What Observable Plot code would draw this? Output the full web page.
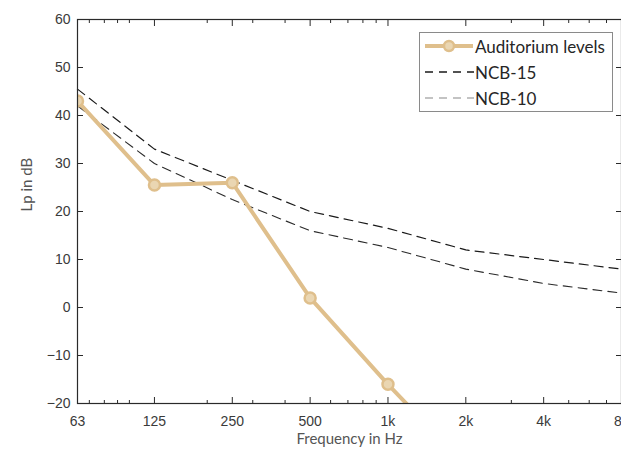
<!DOCTYPE html>
<html><head><meta charset="utf-8">
<script src="https://cdn.jsdelivr.net/npm/d3@7"></script>
<script src="https://cdn.jsdelivr.net/npm/@observablehq/plot@0.6"></script>
<style>
body{margin:0;background:#fff;}
#wrap{position:relative;width:621px;height:450px;overflow:hidden;background:#fff;}
#legend{position:absolute;left:419px;top:32px;width:194px;height:80px;border:1px solid #8a8a8a;background:#fff;font-family:Lato,sans-serif;font-size:17px;color:#262626;box-sizing:border-box;}
#legend .row{position:absolute;left:0;height:26px;width:100%;}
#legend svg{position:absolute;left:4px;top:0;}
#legend span{position:absolute;left:55px;top:2px;white-space:nowrap;}
</style></head><body>
<div id="wrap"></div>
<script>
const freqs = [63, 125, 250, 500, 1000, 2000, 4000, 8000];
const tickLabels = ["63", "125", "250", "500", "1k", "2k", "4k", "8k"];
const minorFreqs = [70, 80, 90, 100, 200, 300, 400, 600, 700, 800, 900, 3000, 5000, 6000, 7000];
const yTicks = [-20, -10, 0, 10, 20, 30, 40, 50, 60];
const auditoriumFreqs = [63, 125, 250, 500, 1000, 2000];
const auditoriumLevels = [43, 25.5, 26, 2, -16, -33];
const ncb15 = [45.5, 33, 26.5, 20, 16.5, 12, 10, 8];
const ncb10 = [42, 30, 22.5, 16, 12.5, 8, 5, 3];
const seriesNames = ["Auditorium levels", "NCB-15", "NCB-10"];

const tan = "#dfbf8c";
const aud = auditoriumFreqs.map((f, i) => ({f, v: auditoriumLevels[i]}));
const n15 = freqs.map((f, i) => ({f, v: ncb15[i]}));
const n10 = freqs.map((f, i) => ({f, v: ncb10[i]}));
const ticks = freqs.map((f, i) => ({f, label: tickLabels[i]}));
const blank = () => "";

const chart = Plot.plot({
  width: 621, height: 450,
  marginLeft: 77, marginRight: 0, marginTop: 19, marginBottom: 47,
  style: {fontFamily: "'Liberation Sans', Arial, sans-serif", fontSize: "14px", color: "#3a3a3a", background: "#fff", overflow: "hidden"},
  x: {type: "log", domain: [63, 8000]},
  y: {domain: [-20, 60]},
  marks: [
    Plot.line(n15, {x: "f", y: "v", stroke: "#1a1a1a", strokeWidth: 1.2, strokeDasharray: "9,6"}),
    Plot.line(n10, {x: "f", y: "v", stroke: "#2a2a2a", strokeWidth: 1.1, strokeDasharray: "9,6"}),
    Plot.line(aud, {x: "f", y: "v", stroke: tan, strokeWidth: 4, clip: true}),
    Plot.dot(aud, {x: "f", y: "v", r: 5.5, fill: "#ead6b2", stroke: tan, strokeWidth: 2.5, clip: true}),
    Plot.frame({stroke: "#2a2a2a", strokeWidth: 1.2}),
    Plot.text(ticks, {x: "f", text: "label", frameAnchor: "bottom", lineAnchor: "top", dy: 13, fill: "#3a3a3a", fontSize: 14}),
    Plot.axisX(freqs, {anchor: "bottom", tickSize: -6, tickFormat: blank, label: null, stroke: "#2a2a2a"}),
    Plot.axisX(freqs, {anchor: "top", tickSize: -6, tickFormat: blank, label: null, stroke: "#2a2a2a"}),
    Plot.axisX(minorFreqs, {anchor: "bottom", tickSize: -3, tickFormat: blank, label: null, stroke: "#2a2a2a"}),
    Plot.axisX(minorFreqs, {anchor: "top", tickSize: -3, tickFormat: blank, label: null, stroke: "#2a2a2a"}),
    Plot.axisY(yTicks, {anchor: "left", tickSize: 0, tickPadding: 7, label: null}),
    Plot.axisY(yTicks, {anchor: "left", tickSize: -6, tickFormat: blank, label: null, stroke: "#2a2a2a"}),
    Plot.axisY(yTicks, {anchor: "right", tickSize: -6, tickFormat: blank, label: null, stroke: "#2a2a2a"}),
    Plot.text(["Frequency in Hz"], {frameAnchor: "bottom", dy: 40, text: d => d, fontFamily: "Lato, sans-serif", fontSize: 15, fill: "#555"}),
    Plot.text(["Lp in dB"], {frameAnchor: "left", dx: -50, rotate: -90, text: d => d, fontFamily: "Lato, sans-serif", fontSize: 15, fill: "#555"})
  ]
});
const wrap = document.getElementById("wrap");
wrap.appendChild(chart);

const legend = document.createElement("div");
legend.id = "legend";
const rows = [
  {top: 1, html: `<svg width="50" height="24"><line x1="1" y1="12" x2="49" y2="12" stroke="${tan}" stroke-width="4"/><circle cx="25" cy="12" r="5" fill="#ead6b2" stroke="${tan}" stroke-width="2.5"/></svg>`},
  {top: 27, html: `<svg width="50" height="24"><line x1="1" y1="12" x2="50" y2="12" stroke="#1a1a1a" stroke-width="1.3" stroke-dasharray="8,6"/></svg>`},
  {top: 53, html: `<svg width="50" height="24"><line x1="1" y1="12" x2="50" y2="12" stroke="#888" stroke-width="1.1" stroke-dasharray="8,6"/></svg>`}
];
rows.forEach((r, i) => {
  const row = document.createElement("div");
  row.className = "row";
  row.style.top = r.top + "px";
  row.innerHTML = r.html + `<span>${seriesNames[i]}</span>`;
  legend.appendChild(row);
});
wrap.appendChild(legend);
</script>
</body></html>
